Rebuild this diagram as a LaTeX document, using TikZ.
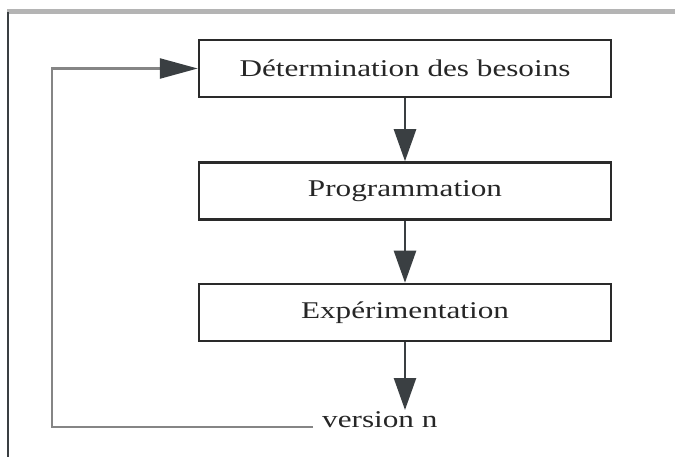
\documentclass[tikz,border=0pt]{standalone}
\usepackage{fontspec}
\setmainfont{Liberation Serif}
\newfontfamily\etapefont[FakeStretch=1.3]{Liberation Serif}
\usetikzlibrary{arrows.meta, positioning, calc}
\definecolor{boxline}{HTML}{2A2A2A}
\definecolor{arrowcol}{HTML}{3A3F42}
\definecolor{loopgray}{HTML}{858585}
\definecolor{framegray}{HTML}{B4B4B4}
\tikzstyle{etape} = [draw=boxline, line width=2.5pt, minimum width=412pt, minimum height=57pt,
    font=\etapefont\fontsize{24}{28}\selectfont, text=black!85]
\tikzstyle{arrow} = [draw=arrowcol, line width=2.5pt, -{Triangle[length=32pt,width=22pt]}]

\begin{document}
\begin{tikzpicture}[x=1pt, y=1pt]
    \useasboundingbox (0,0) rectangle (675,-457);
    % cadre
    \draw[framegray, line width=5pt] (7,-12) -- (675,-12);
    \draw[arrowcol, line width=2pt] (8,-12) -- (8,-457);
    % etapes
    \node[etape] (besoins) at (405,-68.5) {Détermination des besoins};
    \node[etape] (prog) at (405,-191) {Programmation};
    \node[etape] (exp) at (405,-312.5) {Expérimentation};
    \node[font=\etapefont\fontsize{24}{28}\selectfont, text=black!85, anchor=base west, inner sep=0pt]
        (version) at (322,-427) {version n};
    \coordinate (coin) at (52,-427);
    % fleches
    \draw[arrow] (besoins) -- (prog);
    \draw[arrow] (prog) -- (exp);
    \draw[arrow] (exp.south) -- (exp.south |- 0,-410);
    \draw[loopgray, line width=2.5pt, -{Triangle[length=38pt,width=20pt,color=arrowcol]}]
        ($(version.base west)+(-9,0)$) -- (coin) |- (besoins.west);
\end{tikzpicture}
\end{document}
